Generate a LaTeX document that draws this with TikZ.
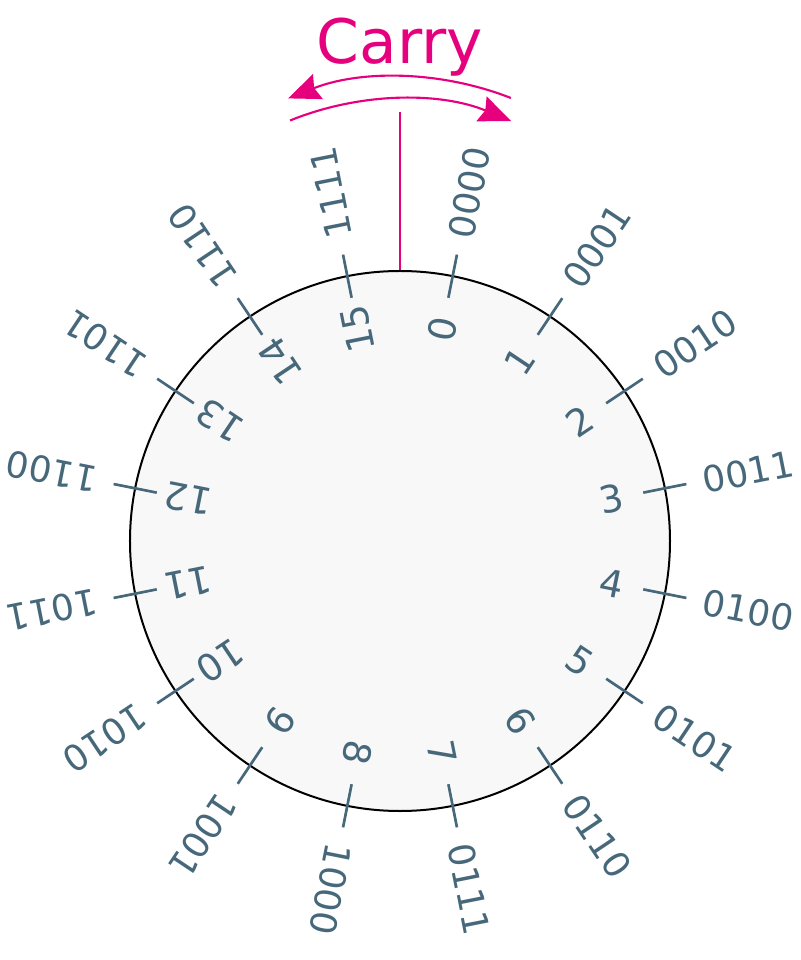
\documentclass[tikz,border=0pt]{standalone}
\usepackage{fontspec}
\setmainfont{DejaVu Sans}
\usetikzlibrary{arrows.meta}
\definecolor{numcol}{HTML}{46687A}
\definecolor{carrycol}{HTML}{E6007E}
\definecolor{dialfill}{HTML}{F8F8F8}
\tikzset{
  dial/.style={circle, draw=black, fill=dialfill, line width=1.5pt, minimum size=405pt, inner sep=0pt},
  tickline/.style={draw=numcol, line width=2pt},
  declabel/.style={text=numcol, font=\fontsize{28pt}{30pt}\selectfont, inner sep=0pt},
  binlabel/.style={text=numcol, font=\fontsize{27pt}{30pt}\selectfont, inner sep=0pt},
  carrytext/.style={text=carrycol, font=\fontsize{46pt}{50pt}\selectfont, inner sep=0pt},
  carryline/.style={draw=carrycol, line width=1.6pt},
  carryarrow/.style={carryline, -{Stealth[length=24pt, width=20pt, inset=3pt]}}
}
\begin{document}
\begin{tikzpicture}[x=0.75pt,y=0.75pt]
\useasboundingbox (-400,-419) rectangle (400,541);
\node[dial] (c) at (0,0) {};
\foreach \k/\b in {0/0000,1/0001,2/0010,3/0011,4/0100,5/0101,6/0110,7/0111,8/1000,9/1001,10/1010,11/1011,12/1100,13/1101,14/1110,15/1111}{
  \pgfmathsetmacro\a{78.75-22.5*\k}
  \coordinate (ti\k) at (\a:248);
  \coordinate (to\k) at (\a:292);
  \draw[tickline] (ti\k) -- (to\k);
  \node[declabel, rotate=\a] (dec\k) at (\a:216) {\k};
  \node[binlabel, rotate=\a] (bin\k) at (\a:355) {\b};
}
\node[carrytext] (carry) at (0,494) {Carry};
\coordinate (ctop) at (0,429);
\draw[carryline] (ctop) -- (c.north);
\coordinate (ua) at (110.9,443);
\coordinate (la) at (-109.9,420.5);
\draw[carryarrow] (ua) arc[start angle=68.6, end angle=111.6, radius=304];
\draw[carryarrow] (la) arc[start angle=112.1, end angle=67.6, radius=292];
\end{tikzpicture}
\end{document}
